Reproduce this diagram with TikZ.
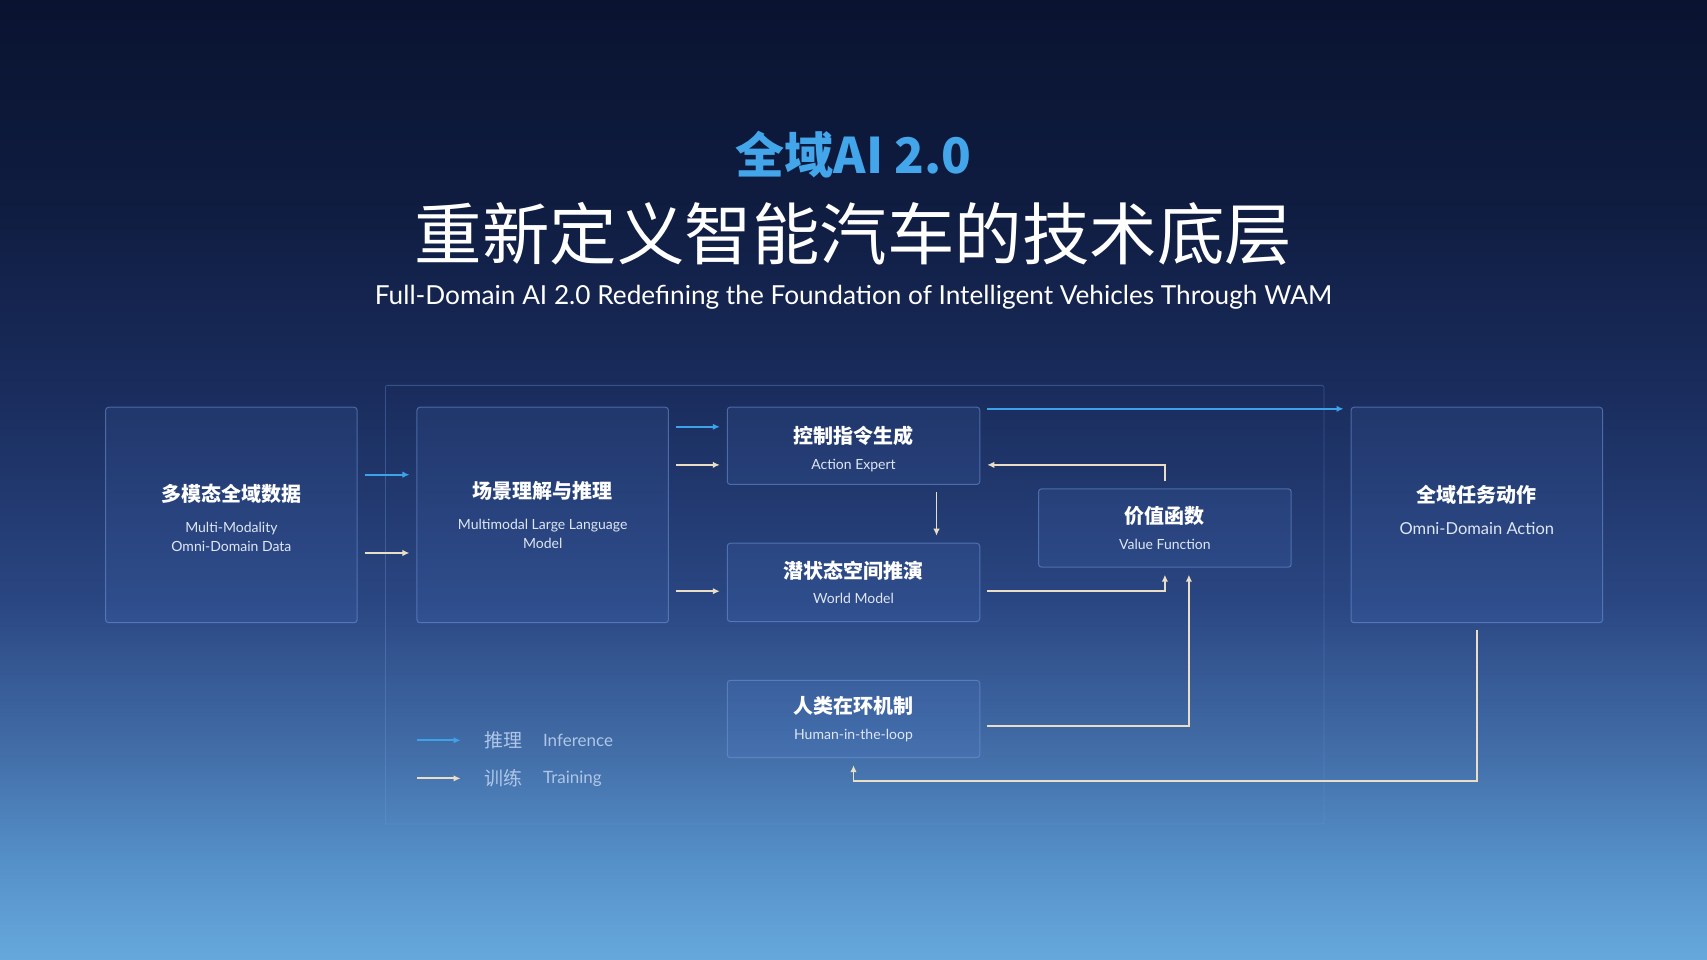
\documentclass[tikz,border=0pt]{standalone}
\usepackage{fontspec}
\usepackage{xcolor}
\usepackage{tikz}
\usetikzlibrary{arrows.meta,positioning,calc}
\setmainfont{Lato}
\newfontfamily\cjk{Noto Sans CJK SC}
\definecolor{bgzero}{HTML}{0A1330}
\definecolor{bgone}{HTML}{0F1C40}
\definecolor{bgtwo}{HTML}{1A2D5E}
\definecolor{bgthree}{HTML}{2A4682}
\definecolor{bgfour}{HTML}{4470AA}
\definecolor{bgfive}{HTML}{5590C8}
\definecolor{bgsix}{HTML}{66A8DC}
\definecolor{headblue}{HTML}{44A6EA}
\definecolor{infblue}{HTML}{3DA2EA}
\definecolor{trncream}{HTML}{EADFC6}
\definecolor{boxtext}{HTML}{DFE7F4}
\definecolor{boxfill}{HTML}{5A8AE0}
\definecolor{boxline}{HTML}{7196DA}
\definecolor{legendtext}{HTML}{AFC6E8}
\pgfdeclareverticalshading{slidebg}{100bp}{color(0bp)=(bgsix); color(25bp)=(bgsix); color(30.2bp)=(bgfive); color(35.4bp)=(bgfour); color(43.75bp)=(bgthree); color(54.2bp)=(bgtwo); color(64.6bp)=(bgone); color(75bp)=(bgzero); color(100bp)=(bgzero)}
\newcommand{\cjkhead}{\cjk\bfseries\fontsize{20}{24}\selectfont\color{white}}
\tikzset{
    block/.style={draw=boxline, draw opacity=0.55, fill=boxfill, fill opacity=0.1, text opacity=1,
        rounded corners=3pt, line width=1pt, align=center, text=boxtext, inner sep=0pt,
        font=\fontsize{14}{19.5}\selectfont},
    infarrow/.style={draw=infblue, line width=1.8pt, -{Latex[length=7pt,width=6.5pt]}},
    trnarrow/.style={draw=trncream, line width=1.8pt, -{Latex[length=7pt,width=6.5pt]}},
    padded/.style={shorten >=7pt, shorten <=7pt},
    legendcn/.style={text=legendtext, inner sep=0pt, font=\cjk\fontsize{19}{19}\selectfont},
    legenden/.style={text=legendtext, inner sep=0pt, font=\fontsize{17}{17}\selectfont}
}

\begin{document}
\begin{tikzpicture}[x=1pt,y=1pt]
    % Background
    \useasboundingbox (0,0) rectangle (1707,960);
    \fill[shading=slidebg] (0,0) rectangle (1707,960);

    % Headline
    \node[text=headblue, font=\cjk\bfseries\fontsize{49}{49}\selectfont] (kicker) at (853.5,805.4) {全域AI 2.0};
    \node[text=white, font=\cjk\fontsize{67.5}{67.5}\selectfont] (headline) at (853.5,726) {重新定义智能汽车的技术底层};
    \node[text=white, font=\fontsize{26.2}{26.2}\selectfont] (subline) at (853.5,663) {Full-Domain AI 2.0 Redefining the Foundation of Intelligent Vehicles Through WAM};

    % Pipeline frame
    \draw[draw=boxline, draw opacity=0.35, line width=0.8pt, rounded corners=2pt] (385.4,135.9) rectangle (1323.9,574.6);

    % Input data
    \node[block, minimum width=251.5pt, minimum height=215.5pt] (data) at (231.4,445) {\rule{0pt}{24pt}{\cjkhead 多模态全域数据}\\[11pt] Multi-Modality\\Omni-Domain Data};

    % Scene understanding
    \node[block, minimum width=251.5pt, minimum height=215.5pt] (scene) at (542.7,445) {{\cjkhead 场景理解与推理}\\[11pt] Multimodal Large Language\\Model};

    % Action expert
    \node[block, minimum width=252.5pt, minimum height=77.3pt] (action) at (853.5,514.2) {\rule{0pt}{24pt}{\cjkhead 控制指令生成}\\[6pt] Action Expert};

    % World model
    \node[block, minimum width=252.5pt, minimum height=78.3pt] (world) at (853.5,377.6) {{\cjkhead 潜状态空间推演}\\[6pt] World Model};

    % Value function
    \node[block, minimum width=252.6pt, minimum height=78.4pt] (value) at (1164.9,432) {{\cjkhead 价值函数}\\[6pt] Value Function};

    % Human in the loop
    \node[block, minimum width=252.5pt, minimum height=77.3pt] (human) at (853.5,241) {{\cjkhead 人类在环机制}\\[6pt] Human-in-the-loop};

    % Output action
    \node[block, minimum width=251.6pt, minimum height=215.5pt, font=\fontsize{16.5}{20}\selectfont] (output) at (1476.8,445) {{\cjkhead 全域任务动作}\\[12pt] Omni-Domain Action\rule[-11pt]{0pt}{0pt}};

    % Inference flow
    \draw[infarrow, padded] ([yshift=40.3pt]data.east) -- ([yshift=40.3pt]scene.west);
    \draw[infarrow, padded] ([yshift=88.2pt]scene.east) -- ([yshift=88.2pt]scene.east -| action.west);
    \draw[infarrow, padded] ([yshift=-2.2pt]action.north east) -- ([yshift=-2.2pt]action.north east -| output.west);

    % Training flow
    \draw[trnarrow, padded] ([yshift=-38pt]data.east) -- ([yshift=-38pt]scene.west);
    \draw[trnarrow, padded] ([yshift=50.1pt]scene.east) -- ([yshift=50.1pt]scene.east -| action.west);
    \draw[trnarrow, padded] ([yshift=-8.8pt]world.west -| scene.east) -- ([yshift=-8.8pt]world.west);
    \draw[trnarrow, padded] ([xshift=83pt]action.south) -- ([xshift=83pt]world.north);
    \draw[trnarrow, padded] (value.north) |- ([yshift=-19.1pt]action.east);
    \draw[trnarrow, padded] ([yshift=-8.8pt]world.east) -| (value.south);
    \draw[trnarrow, padded] ([yshift=-7.2pt]human.east) -| ([xshift=24pt]value.south);
    \draw[trnarrow, padded] (output.south) -- ++(0,-157.85) -| (human.south);

    % Legend
    \coordinate (inflegend) at (417,219.7);
    \coordinate (trnlegend) at (417,181.6);
    \draw[infarrow] (inflegend) -- ++(43.5,0);
    \draw[trnarrow] (trnlegend) -- ++(43.5,0);
    \node[legendcn, anchor=west] (inftag) at ([xshift=67.5pt]inflegend) {推理};
    \node[legenden, right=20pt of inftag] (infname) {Inference};
    \node[legendcn, anchor=west] (trntag) at ([xshift=67.5pt]trnlegend) {训练};
    \node[legenden, right=20pt of trntag] (trnname) {Training};
\end{tikzpicture}
\end{document}
